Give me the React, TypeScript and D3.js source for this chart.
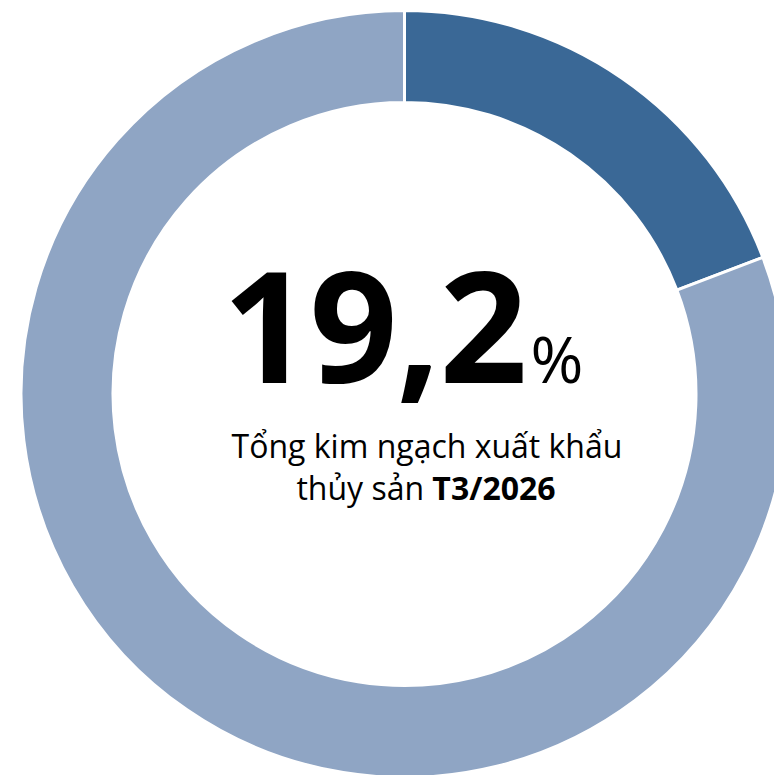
import * as d3 from "d3";
import React, { useRef, useEffect } from "react";

// share of seafood exports
const labels = ["T3/2026", "Còn lại"];
const values = [19.2, 80.8];
const colors = ["#3A6896", "#8FA5C4"];

const headline = "19,2";
const subLine1 = "Tổng kim ngạch xuất khẩu";
const subLine2Plain = "thủy sản ";
const subLine2Bold = "T3/2026";

const W = 774;
const H = 775;

export default function App() {
  const svgRef = useRef<SVGSVGElement | null>(null);

  useEffect(() => {
    if (!svgRef.current) return;
    const svg = d3.select(svgRef.current);
    svg.selectAll("*").remove();

    const cx = 404.5;
    const cy = 394;
    const outerR = 383.5;
    const innerR = 291.5;

    const pie = d3
      .pie<number>()
      .sort(null)
      .value((d) => d);

    const arc = d3
      .arc<d3.PieArcDatum<number>>()
      .innerRadius(innerR)
      .outerRadius(outerR);

    const g = svg.append("g").attr("transform", `translate(${cx},${cy})`);

    g.selectAll("path")
      .data(pie(values))
      .enter()
      .append("path")
      .attr("d", arc)
      .attr("fill", (_, i) => colors[i])
      .attr("stroke", "#ffffff")
      .attr("stroke-width", 3)
      .append("title")
      .text((d, i) => `${labels[i]}: ${d.data}%`);

    // big number in the middle
    const big = svg
      .append("text")
      .attr("x", 403)
      .attr("y", 383)
      .attr("text-anchor", "middle")
      .style("font-family", "'Open Sans', sans-serif")
      .style("fill", "#000");
    big
      .append("tspan")
      .style("font-size", "154px")
      .style("font-weight", "bold")
      .attr("letter-spacing", "-1")
      .text(headline);
    big
      .append("tspan")
      .attr("dx", 4)
      .style("font-size", "64px")
      .style("font-weight", "normal")
      .text("%");

    svg
      .append("text")
      .attr("x", 427)
      .attr("y", 458)
      .attr("text-anchor", "middle")
      .style("font-family", "'Open Sans', sans-serif")
      .style("font-size", "32px")
      .style("fill", "#000")
      .text(subLine1);

    const l2 = svg
      .append("text")
      .attr("x", 426)
      .attr("y", 500)
      .attr("text-anchor", "middle")
      .style("font-family", "'Open Sans', sans-serif")
      .style("font-size", "32px")
      .style("fill", "#000");
    l2.append("tspan").text(subLine2Plain);
    l2.append("tspan").style("font-weight", "bold").text(subLine2Bold);
  }, []);

  return (
    <div style={{ position: "fixed", left: 0, top: 0, width: W, height: H, overflow: "hidden", background: "#fff" }}>
      <svg ref={svgRef} width={W} height={H}></svg>
    </div>
  );
}
